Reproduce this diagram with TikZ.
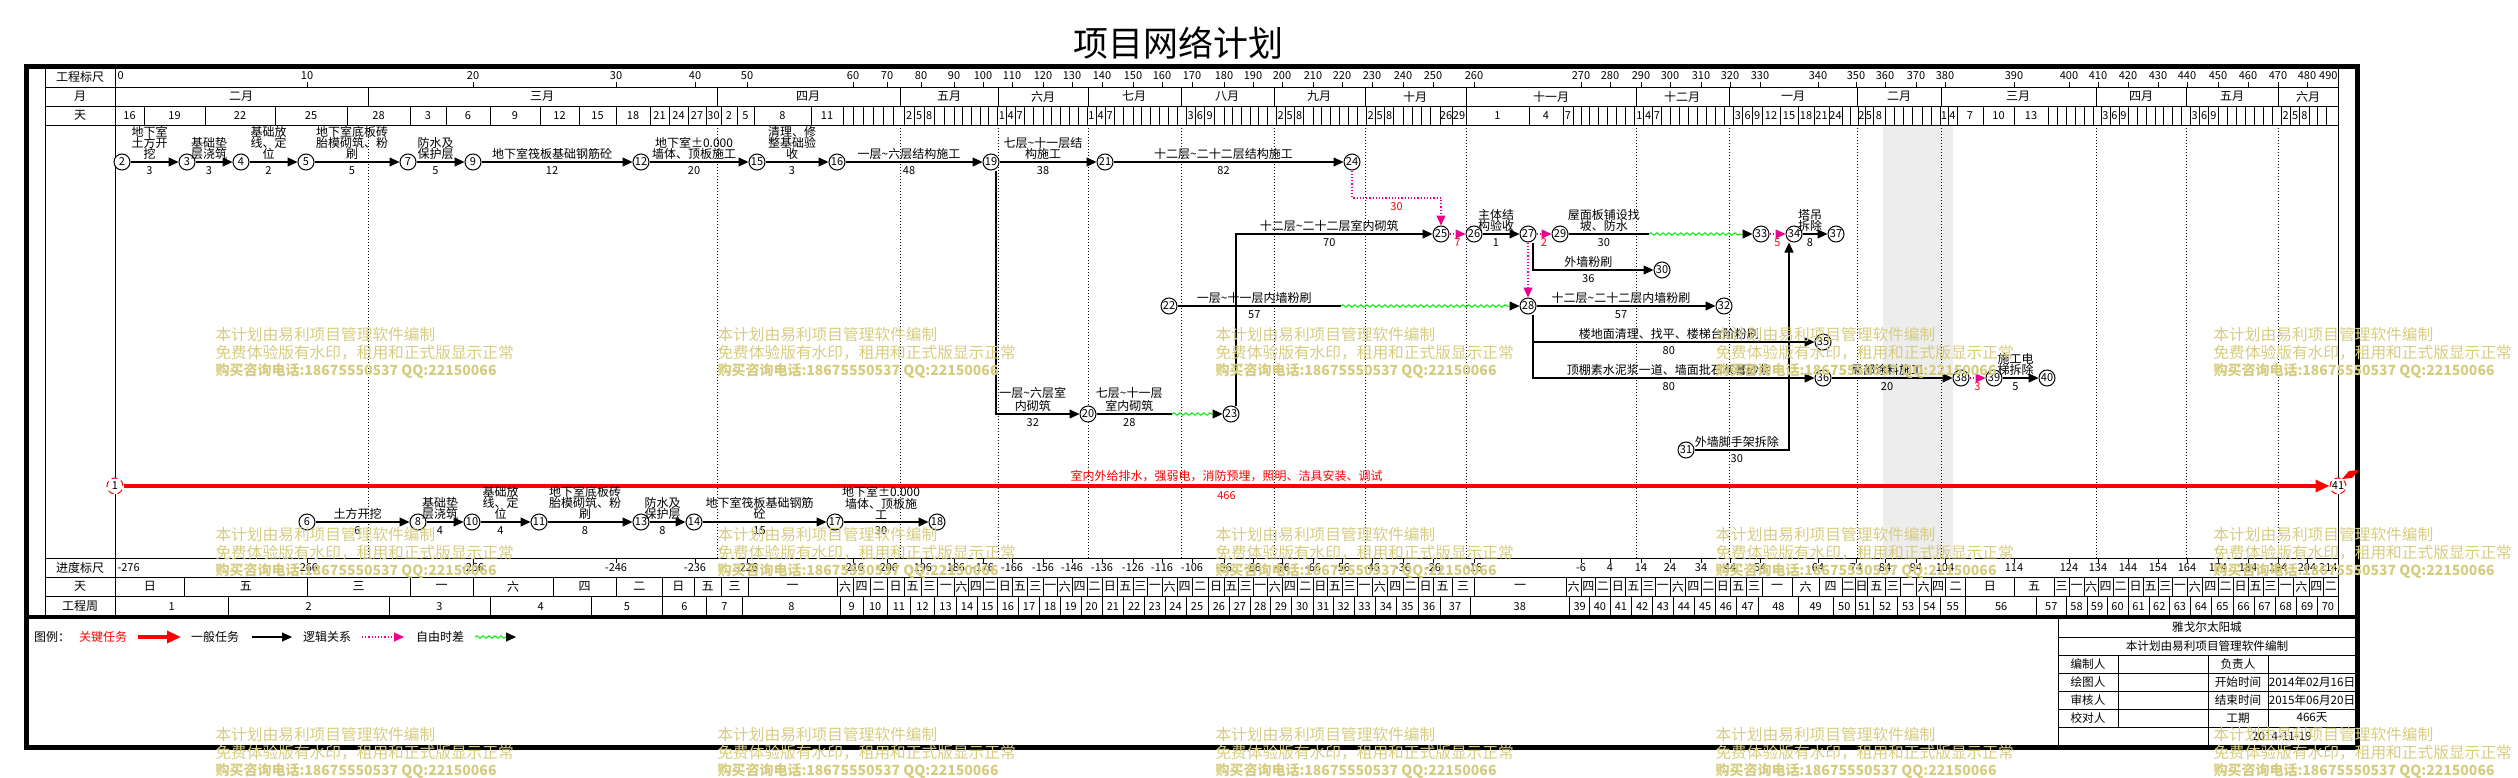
\documentclass[tikz,border=0pt]{standalone}
\usepackage{fontspec}
\setmainfont{Noto Sans CJK SC}
\usetikzlibrary{arrows.meta,decorations.pathmorphing}

\definecolor{wmark}{RGB}{214,204,128}
\definecolor{floatgreen}{RGB}{0,235,0}
\newcommand\tld{\textasciitilde}

\def\anchorlist{3/144,6/205,9/275,10/307,12/347,15/410,18/446,20/473,21/490,24/540,27/579,30/616,33/650,36/669,39/688,42/706,45/721,48/737,51/754,54/811,55/837,56/840,57/843,60/853,70/887,80/921,90/954,100/983,110/1012,120/1043,130/1072,140/1102,150/1133,160/1162,170/1192,180/1224,190/1253,200/1282,210/1313,220/1342,230/1372,240/1403,250/1433,252/1440,255/1452,258/1466,260/1474,261/1529,264/1563,267/1573,270/1581,280/1610,290/1641,300/1670,310/1701,320/1730,330/1762,333/1780,336/1798,339/1814,342/1829,345/1842,351/1858,354/1865,357/1873,360/1885,370/1916,378/1940,381/1948,384/1957,387/1983,390/2014,393/2048,408/2093,411/2101,420/2128,430/2158,440/2187,450/2218,460/2248,470/2278,480/2309,490/2338}
\newcommand\dayx[1]{%
  \gdef\dxres{}\gdef\dprev{0}\gdef\xprev{115}%
  \foreach \ancD/\ancX in \anchorlist{%
    \ifx\dxres\empty
      \ifdim #1pt>\ancD pt\relax\else
        \pgfmathsetmacro\tmpx{\xprev+(#1-\dprev)*(\ancX-\xprev)/(\ancD-\dprev)}%
        \global\let\dxres\tmpx
      \fi
    \fi
    \xdef\dprev{\ancD}\xdef\xprev{\ancX}%
  }%
}

\begin{document}
\begin{tikzpicture}[x=0.5pt,y=-0.5pt,line width=0.5pt,
  nd/.style={circle,draw,fill=white,inner sep=0pt,minimum size=8pt,font=\fontsize{5.5}{5.5}\selectfont},
  crit/.style={nd,draw=red,densely dashed},
  plain/.style={line width=0.6pt},
  task/.style={plain,-{Triangle[length=5pt,width=4.5pt]}},
  free/.style={draw=magenta,line width=0.6pt,densely dotted,-{Triangle[length=5pt,width=4.5pt,magenta]}},
  slack/.style={draw=floatgreen,line width=0.5pt,decorate,decoration={snake,amplitude=0.6pt,segment length=3pt,post length=5pt},-{Triangle[length=5pt,width=4.5pt,black]}},
  critline/.style={draw=red,line width=1.6pt,-{Triangle[length=7pt,width=6pt]}},
  lbl/.style={above=0.5pt,xshift=-2.5pt,align=center,inner sep=0.5pt,font=\fontsize{6}{5.6}\selectfont},
  dur/.style={below=1.5pt,xshift=-2.5pt,inner sep=0.5pt,font=\fontsize{5.5}{5.5}\selectfont},
  flt/.style={below=1.5pt,inner sep=0.5pt,text=red,font=\fontsize{5.5}{5.5}\selectfont},
  num/.style={inner sep=0pt,font=\fontsize{5.5}{5.5}\selectfont},
  hdr/.style={inner sep=0pt,font=\fontsize{6}{6}\selectfont},
  tb/.style={inner sep=0pt,font=\fontsize{5.8}{5.8}\selectfont},
  wm/.style={anchor=north west,align=left,inner sep=0pt,text=wmark,font=\fontsize{7.85}{8.75}\selectfont}]
\useasboundingbox (0,0) rectangle (2518,777);
\node[font=\fontsize{17.5}{17.5}\selectfont] (ttl) at (1178,43) {项目网络计划};

% frame and scales
\fill[black!7] (1883,125) rectangle (1953,558);
\draw[line width=2.5pt] (26,66) rectangle (2357,747);
\draw[line width=2pt] (26,617) -- (2357,617);
\draw (45,66) -- (45,617) (115,66) -- (115,617) (2338,66) -- (2338,617);
\foreach \y in {87,106,125,558,577,596} \draw (45,\y) -- (2338,\y);
\node[hdr] at (80,77) {工程标尺};
\node[hdr] at (80,96.5) {月};
\node[hdr] at (80,115.5) {天};
\node[hdr] at (80,567.5) {进度标尺};
\node[hdr] at (80,586.5) {天};
\node[hdr] at (80,606.5) {工程周};
\node[num,anchor=west] at (117,76) {0};
\node[num,anchor=east] at (2338,76) {490};
\node[num,anchor=west] at (117,567.5) {-276};
\node[num,anchor=east] at (2338,567.5) {214};
\foreach \d/\x in {10/307,20/473,30/616,40/695,50/747,60/853,70/887,80/921,90/954,100/983,110/1012,120/1043,130/1072,140/1102,150/1133,160/1162,170/1192,180/1224,190/1253,200/1282,210/1313,220/1342,230/1372,240/1403,250/1433,260/1474,270/1581,280/1610,290/1641,300/1670,310/1701,320/1730,330/1760,340/1818,350/1856,360/1885,370/1916,380/1945,390/2014,400/2069,410/2098,420/2128,430/2158,440/2187,450/2218,460/2248,470/2278,480/2307}{
  \draw (\x,87) -- (\x,82);
  \node[num] at (\x,76) {\d};
  \draw (\x,558) -- (\x,563);
  \pgfmathtruncatemacro\pg{\d-276}
  \node[num] at (\x,567.5) {\pg};
}
\foreach \x in {368,717,900,998,1088,1181,1274,1365,1466,1636,1729,1857,1941,2096,2186,2278}{
  \draw (\x,87) -- (\x,106);
  \draw[densely dotted] (\x,125) -- (\x,558);
}
\foreach \x/\m in {241/二月,542/三月,808/四月,949/五月,1043/六月,1134/七月,1227/八月,1319/九月,1415/十月,1551/十一月,1682/十二月,1793/一月,1899/二月,2018/三月,2141/四月,2232/五月,2308/六月}
  \node[hdr] at (\x,96.5) {\m};
\foreach \k in {1,...,162}{
  \pgfmathtruncatemacro\dd{3*\k}
  \dayx{\dd}
  \draw (\dxres,106) -- (\dxres,125);
}
\foreach \dd/\lab in {0/16,3/19,6/22,9/25,12/28,15/3,18/6,21/9,24/12,27/15,30/18,33/21,36/24,39/27,42/30,45/2,48/5,51/8,54/11,75/2,78/5,81/8,105/1,108/4,111/7,135/1,138/4,141/7,168/3,171/6,174/9,198/2,201/5,204/8,228/2,231/5,234/8,252/26,255/29,258/1,261/4,264/7,288/1,291/4,294/7,321/3,324/6,327/9,330/12,333/15,336/18,339/21,342/24,351/2,354/5,357/8,378/1,381/4,384/7,387/10,390/13,411/3,414/6,417/9,441/3,444/6,447/9,471/2,474/5,477/8}{
  \dayx{\dd}\let\xL\dxres
  \pgfmathtruncatemacro\dE{\dd+3}
  \dayx{\dE}
  \node[num] at ({(\xL+\dxres)/2},115.5) {\lab};
}
\foreach \k in {0,...,97}{
  \pgfmathtruncatemacro\dA{5*\k}
  \pgfmathtruncatemacro\dB{5*\k+5}
  \pgfmathtruncatemacro\wk{mod(5*\k,7)}
  \dayx{\dA}\let\xL\dxres\dayx{\dB}
  \draw (\dxres,577) -- (\dxres,596);
  \node[hdr] at ({(\xL+\dxres)/2},586.5) {\ifcase\wk\relax 日\or 一\or 二\or 三\or 四\or 五\or 六\fi};
}
\foreach \k in {0,...,69}{
  \pgfmathtruncatemacro\dA{7*\k}
  \pgfmathtruncatemacro\dB{7*\k+7}
  \pgfmathtruncatemacro\wn{\k+1}
  \dayx{\dA}\let\xL\dxres\dayx{\dB}
  \draw (\dxres,596) -- (\dxres,617);
  \node[num] at ({(\xL+\dxres)/2},606.5) {\wn};
}

% nodes
\node[nd] (n2) at (122,162) {2};
\node[nd] (n3) at (187,162) {3};
\node[nd] (n4) at (241,162) {4};
\node[nd] (n5) at (306,162) {5};
\node[nd] (n7) at (408,162) {7};
\node[nd] (n9) at (473,162) {9};
\node[nd] (n12) at (641,162) {12};
\node[nd] (n15) at (757,162) {15};
\node[nd] (n16) at (837,162) {16};
\node[nd] (n19) at (991,162) {19};
\node[nd] (n21) at (1105,162) {21};
\node[nd] (n24) at (1352,162) {24};
\node[nd] (n25) at (1441,234) {25};
\node[nd] (n26) at (1474,234) {26};
\node[nd] (n27) at (1528,234) {27};
\node[nd] (n29) at (1560,234) {29};
\node[nd] (n33) at (1761,234) {33};
\node[nd] (n34) at (1794,234) {34};
\node[nd] (n37) at (1836,234) {37};
\node[nd] (n30) at (1662,270) {30};
\node[nd] (n22) at (1169,306) {22};
\node[nd] (n28) at (1528,306) {28};
\node[nd] (n32) at (1724,306) {32};
\node[nd] (n35) at (1823,342) {35};
\node[nd] (n36) at (1823,378) {36};
\node[nd] (n38) at (1961,378) {38};
\node[nd] (n39) at (1994,378) {39};
\node[nd] (n40) at (2047,378) {40};
\node[nd] (n20) at (1088,414) {20};
\node[nd] (n23) at (1231,414) {23};
\node[nd] (n31) at (1686,450) {31};
\node[crit] (n1) at (115,486) {1};
\node[crit] (n41) at (2338,486) {41};
\node[nd] (n6) at (307,522) {6};
\node[nd] (n8) at (418,522) {8};
\node[nd] (n10) at (472,522) {10};
\node[nd] (n11) at (539,522) {11};
\node[nd] (n13) at (641,522) {13};
\node[nd] (n14) at (694,522) {14};
\node[nd] (n17) at (835,522) {17};
\node[nd] (n18) at (937,522) {18};
\coordinate (k24) at (1441,198);
\coordinate (w20) at (1172,414);
\coordinate (w22) at (1341,306);
\coordinate (w29) at (1649,234);

% tasks
\draw[task] (n2) -- node[lbl]{地下室\\土方开\\挖} node[dur]{3} (n3);
\draw[task] (n3) -- node[lbl]{基础垫\\层浇筑} node[dur]{3} (n4);
\draw[task] (n4) -- node[lbl]{基础放\\线、定\\位} node[dur]{2} (n5);
\draw[task] (n5) -- node[lbl]{地下室底板砖\\胎模砌筑、粉\\刷} node[dur]{5} (n7);
\draw[task] (n7) -- node[lbl]{防水及\\保护层} node[dur]{5} (n9);
\draw[task] (n9) -- node[lbl]{地下室筏板基础钢筋砼} node[dur]{12} (n12);
\draw[task] (n12) -- node[lbl]{地下室±0.000\\墙体、顶板施工} node[dur]{20} (n15);
\draw[task] (n15) -- node[lbl]{清理、修\\整基础验\\收} node[dur]{3} (n16);
\draw[task] (n16) -- node[lbl]{一层\tld 六层结构施工} node[dur]{48} (n19);
\draw[task] (n19) -- node[lbl]{七层\tld 十一层结\\构施工} node[dur]{38} (n21);
\draw[task] (n21) -- node[lbl]{十二层\tld 二十二层结构施工} node[dur]{82} (n24);
\draw[free] (n24) |- node[pos=0.75,flt]{30} (k24) -- (n25);
\draw[task] ([xshift=2.5pt]n19.south) |- node[pos=0.75,lbl]{一层\tld 六层室\\内砌筑} node[pos=0.75,dur]{32} (n20);
\draw[plain] (n20) -- node[lbl]{七层\tld 十一层\\室内砌筑} node[dur]{28} (w20);
\draw[slack] (w20) -- (n23);
\draw[task] ([xshift=2.5pt]n23.north) |- node[pos=0.75,lbl]{十二层\tld 二十二层室内砌筑} node[pos=0.75,dur]{70} (n25);
\draw[free] (n25) -- node[flt]{7} (n26);
\draw[task] (n26) -- node[lbl]{主体结\\构验收} node[dur]{1} (n27);
\draw[free] (n27) -- node[flt]{2} (n29);
\draw[plain] (n29) -- node[lbl]{屋面板铺设找\\坡、防水} node[dur]{30} (w29);
\draw[slack] (w29) -- (n33);
\draw[free] (n33) -- node[flt]{5} (n34);
\draw[task] (n34) -- node[lbl]{塔吊\\拆除} node[dur]{8} (n37);
\draw[task] ([xshift=2.5pt]n27.south) |- node[pos=0.75,lbl]{外墙粉刷} node[pos=0.75,dur]{36} (n30);
\draw[free] (n27) -- (n28);
\draw[plain] (n22) -- node[lbl]{一层\tld 十一层内墙粉刷} node[dur]{57} (w22);
\draw[slack] (w22) -- (n28);
\draw[task] (n28) -- node[lbl]{十二层\tld 二十二层内墙粉刷} node[dur]{57} (n32);
\draw[task] ([xshift=2.5pt]n28.south) |- node[pos=0.75,lbl]{楼地面清理、找平、楼梯台阶粉刷} node[pos=0.75,dur]{80} (n35);
\draw[task] ([xshift=2.5pt]n28.south) |- node[pos=0.75,lbl]{顶棚素水泥浆一道、墙面批石灰膏砂浆} node[pos=0.75,dur]{80} (n36);
\draw[task] (n36) -- node[lbl]{局部涂料施工} node[dur]{20} (n38);
\draw[free] (n38) -- node[flt]{3} (n39);
\draw[task] (n39) -- node[lbl]{施工电\\梯拆除} node[dur]{5} (n40);
\draw[task] (n31) -| node[pos=0.25,lbl]{外墙脚手架拆除} node[pos=0.25,dur]{30} ([xshift=-2.5pt]n34.south);
\draw[critline] (n1) -- node[above=1pt,inner sep=0.5pt,text=red,font=\fontsize{6}{6}\selectfont]{室内外给排水，强弱电，消防预埋，照明、洁具安装、调试} node[flt]{466} (n41);
\fill[red] (2342,479) -- (2349,471) -- (2359,470) -- (2352,478) -- cycle;
\draw[task] (n6) -- node[lbl]{土方开挖} node[dur]{6} (n8);
\draw[task] (n8) -- node[lbl]{基础垫\\层浇筑} node[dur]{4} (n10);
\draw[task] (n10) -- node[lbl]{基础放\\线、定\\位} node[dur]{4} (n11);
\draw[task] (n11) -- node[lbl]{地下室底板砖\\胎模砌筑、粉\\刷} node[dur]{8} (n13);
\draw[task] (n13) -- node[lbl]{防水及\\保护层} node[dur]{8} (n14);
\draw[task] (n14) -- node[lbl]{地下室筏板基础钢筋\\砼} node[dur]{15} (n17);
\draw[task] (n17) -- node[lbl]{地下室±0.000\\墙体、顶板施\\工} node[dur]{30} (n18);

% legend
\node[hdr] (lg0) at (52,637) {图例：};
\node[hdr,text=red] (lg1) at (103,637) {关键任务};
\node[hdr] (lg2) at (215,637) {一般任务};
\node[hdr] (lg3) at (327,637) {逻辑关系};
\node[hdr] (lg4) at (440,637) {自由时差};
\coordinate (la1) at (138,637); \coordinate (la2) at (181,637);
\coordinate (lb1) at (252,637); \coordinate (lb2) at (292,637);
\coordinate (lc1) at (362,637); \coordinate (lc2) at (404,637);
\coordinate (ld1) at (475,637); \coordinate (ld2) at (516,637);
\draw[critline] (la1) -- (la2);
\draw[task] (lb1) -- (lb2);
\draw[free] (lc1) -- (lc2);
\draw[slack] (ld1) -- (ld2);

% title block
\draw (2058,617) -- (2058,747);
\foreach \y in {637,655,673,691,709,727} \draw (2058,\y) -- (2357,\y);
\draw (2118,655) -- (2118,727) (2268,655) -- (2268,727) (2208,655) -- (2208,747);
\node[tb] (tb1) at (2207,627) {雅戈尔太阳城};
\node[tb] (tb2) at (2207,646) {本计划由易利项目管理软件编制};
\node[tb] at (2088,664) {编制人};
\node[tb] at (2238,664) {负责人};
\node[tb] at (2088,682) {绘图人};
\node[tb] at (2238,682) {开始时间};
\node[tb] at (2312,682) {2014年02月16日};
\node[tb] at (2088,700) {审核人};
\node[tb] at (2238,700) {结束时间};
\node[tb] at (2312,700) {2015年06月20日};
\node[tb] at (2088,718) {校对人};
\node[tb] at (2238,718) {工期};
\node[tb] at (2312,718) {466天};
\node[tb] at (2282,736) {2014-11-19};

% watermark
\foreach \x in {215,717,1215,1715,2213}
  \foreach \y in {335,535,735}
    \node[wm] at (\x,\y-8) {本计划由易利项目管理软件编制\\免费体验版有水印，租用和正式版显示正常\\{\fontsize{7}{8.75}\selectfont\bfseries 购买咨询电话:18675550537 QQ:22150066}};
\end{tikzpicture}
\end{document}
